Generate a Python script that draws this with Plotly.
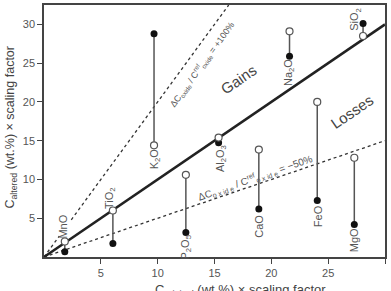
import plotly.graph_objects as go

# ---- data ----
oxides = ["MnO", "TiO<sub>2</sub>", "P<sub>2</sub>O<sub>5</sub>", "K<sub>2</sub>O",
          "Al<sub>2</sub>O<sub>3</sub>", "CaO", "Na<sub>2</sub>O", "FeO", "MgO", "SiO<sub>2</sub>"]
x_orig = [1.83, 6.06, 12.48, 9.68, 15.36, 18.9, 21.6, 24.04, 27.3, 28.07]
y_open = [2.0, 6.0, 10.6, 14.4, 15.4, 13.85, 29.1, 20.0, 12.8, 28.5]
y_filled = [0.68, 1.75, 3.15, 28.8, 14.75, 6.2, 25.9, 7.3, 4.2, 30.1]
label_y = [3.9, 7.6, 1.2, 12.6, 12.7, 4.0, 23.8, 5.3, 2.2, 30.6]
label_dx = [-2, -3, 0, 1, 2, 0, 0, 1, 0, -8]

tick_vals = [5, 10, 15, 20, 25, 30]
x_max = 30
y_max = 32.5
iso_ratio = 1.0
gain_ratio = 2.0
loss_ratio = 0.5
gap_lo, gap_hi = 1.35, 2.4  # gap in +100% line for MnO label

GRAY = "#555555"
DARK = "#222222"
FONT = "Liberation Sans, Arial, sans-serif"

fig = go.Figure()

# reference lines
fig.add_trace(go.Scatter(x=[0, x_max], y=[0, loss_ratio * x_max], mode="lines",
                         line=dict(color="#333333", width=1.3, dash="dot"), hoverinfo="skip"))
gx_end = y_max / gain_ratio
fig.add_trace(go.Scatter(x=[0, gap_lo, None, gap_hi, gx_end],
                         y=[0, gain_ratio * gap_lo, None, gain_ratio * gap_hi, gain_ratio * gx_end],
                         mode="lines", line=dict(color="#333333", width=1.3, dash="dot"),
                         hoverinfo="skip"))
fig.add_trace(go.Scatter(x=[0, x_max], y=[0, iso_ratio * x_max], mode="lines",
                         line=dict(color=DARK, width=2.5), hoverinfo="skip"))

# vertical connectors
cx, cy = [], []
for x, a, b in zip(x_orig, y_open, y_filled):
    cx += [x, x, None]
    cy += [a, b, None]
fig.add_trace(go.Scatter(x=cx, y=cy, mode="lines", line=dict(color="#555555", width=1.5),
                         hoverinfo="skip"))

fig.add_trace(go.Scatter(x=x_orig, y=y_filled, mode="markers",
                         marker=dict(size=7, color="#111111", line=dict(width=0))))
fig.add_trace(go.Scatter(x=x_orig, y=y_open, mode="markers",
                         marker=dict(size=7, color="white", line=dict(width=1.2, color="#555555"))))

anns = []
for name, x, ly, dx in zip(oxides, x_orig, label_y, label_dx):
    anns.append(dict(x=x, y=ly, text=name, showarrow=False, textangle=-90, xshift=dx,
                     font=dict(size=11, color=GRAY, family=FONT)))

anns += [
    dict(x=17.1, y=22.9, text="Gains", showarrow=False, textangle=-34.5,
         font=dict(size=15, color="#444444", family=FONT)),
    dict(x=27.1, y=18.8, text="Losses", showarrow=False, textangle=-34.5,
         font=dict(size=15, color="#444444", family=FONT)),
    dict(x=13.9, y=24.8, text="ΔC<sub>oxide</sub> / C<sup>ref</sup><sub>oxide</sub> = +100%",
         showarrow=False, textangle=-54, font=dict(size=9, color=GRAY, family=FONT)),
    dict(x=18.6, y=10.3, text="ΔC<sub>o x id e</sub> / C<sup>ref</sup><sub>o x id e</sub> = −50%",
         showarrow=False, textangle=-19, font=dict(size=10, color=GRAY, family=FONT)),
    dict(x=0.575, y=-0.09, xref="paper", yref="paper", yanchor="top",
         text="C<sub>original</sub> (wt.%) × scaling factor", showarrow=False,
         font=dict(size=13, color="#444444", family=FONT)),
    dict(x=-0.125, y=0.515, xref="paper", yref="paper",
         text="C<sub>altered</sub> (wt.%) × scaling factor", showarrow=False, textangle=-90,
         font=dict(size=12.5, color="#444444", family=FONT)),
]

axis_common = dict(showline=True, linecolor="#444444", linewidth=1.5, mirror=True,
                   ticks="outside", ticklen=5, tickcolor="#444444", tickwidth=1.2,
                   showgrid=False, zeroline=False, tickvals=tick_vals,
                   tickfont=dict(size=11, color=GRAY, family=FONT))

fig.update_layout(
    width=391, height=291,
    margin=dict(l=44, r=6, t=3, b=34),
    plot_bgcolor="white", paper_bgcolor="white",
    showlegend=False,
    xaxis=dict(range=[0, x_max], **axis_common),
    yaxis=dict(range=[0, y_max], **axis_common),
    annotations=anns,
)

fig.write_html("out.html")
